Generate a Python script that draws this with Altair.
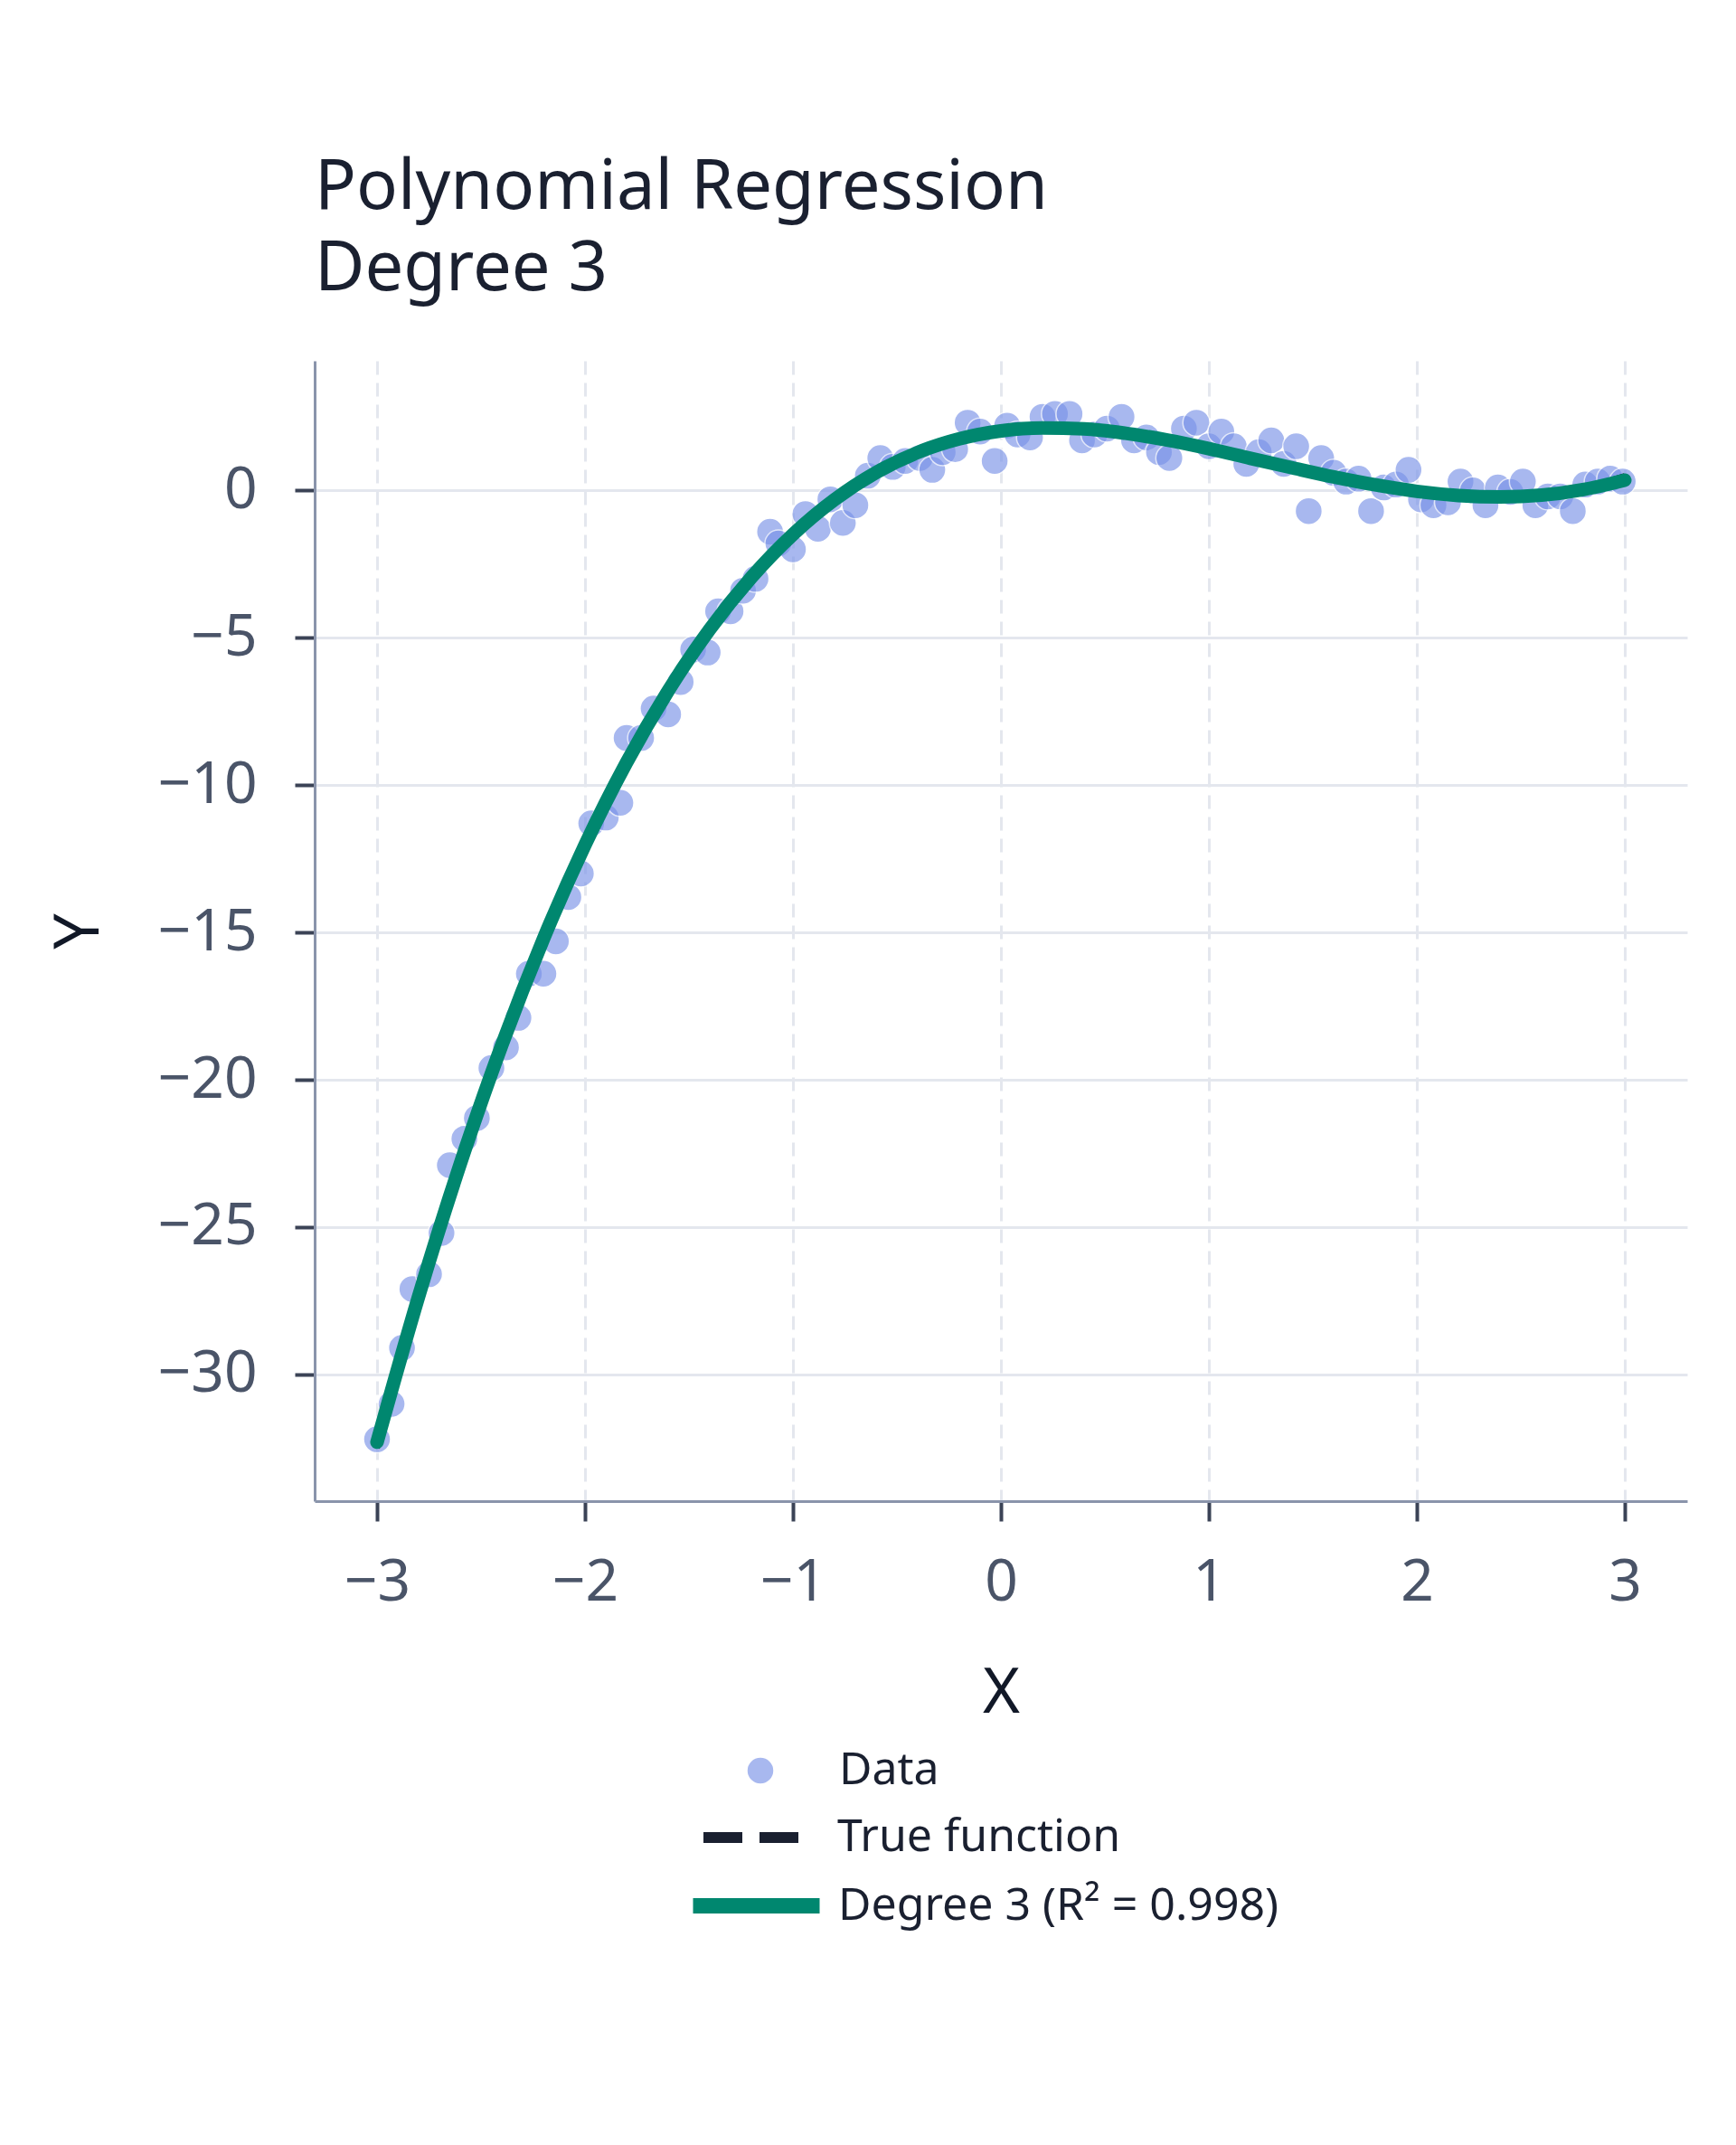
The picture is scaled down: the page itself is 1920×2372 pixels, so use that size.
import altair as alt
import pandas as pd

# noisy samples
pts_x = [-3.00, -2.93, -2.88, -2.83, -2.75, -2.69, -2.65, -2.58, -2.52, -2.45,
         -2.38, -2.32, -2.27, -2.20, -2.14, -2.08, -2.02, -1.97, -1.90, -1.83,
         -1.80, -1.73, -1.67, -1.60, -1.54, -1.48, -1.41, -1.36, -1.30, -1.24,
         -1.18, -1.11, -1.07, -1.00, -0.94, -0.88, -0.82, -0.76, -0.70, -0.64,
         -0.58, -0.52, -0.46, -0.39, -0.33, -0.28, -0.22, -0.16, -0.10, -0.03,
         0.03, 0.08, 0.14, 0.20, 0.26, 0.33, 0.39, 0.45, 0.51, 0.58,
         0.64, 0.70, 0.76, 0.81, 0.88, 0.94, 1.00, 1.06, 1.12, 1.18,
         1.24, 1.30, 1.36, 1.42, 1.48, 1.54, 1.60, 1.66, 1.72, 1.78,
         1.84, 1.90, 1.96, 2.02, 2.08, 2.15, 2.21, 2.27, 2.33, 2.39,
         2.45, 2.51, 2.57, 2.63, 2.69, 2.75, 2.81, 2.87, 2.93, 2.99]
pts_y = [-32.2, -31.0, -29.1, -27.1, -26.6, -25.2, -22.9, -22.0, -21.3, -19.6,
         -18.9, -17.9, -16.4, -16.4, -15.3, -13.8, -13.0, -11.3, -11.1, -10.6,
         -8.4, -8.4, -7.4, -7.6, -6.5, -5.4, -5.5, -4.1, -4.1, -3.4,
         -3.0, -1.4, -1.8, -2.0, -0.8, -1.3, -0.3, -1.1, -0.5, 0.5,
         1.1, 0.8, 1.0, 1.1, 0.7, 1.3, 1.4, 2.3, 2.0, 1.0,
         2.2, 1.9, 1.8, 2.5, 2.6, 2.6, 1.7, 1.9, 2.1, 2.5,
         1.7, 1.8, 1.3, 1.1, 2.1, 2.3, 1.5, 2.0, 1.5, 0.9,
         1.3, 1.7, 0.9, 1.5, -0.7, 1.1, 0.6, 0.3, 0.4, -0.7,
         0.1, 0.2, 0.7, -0.3, -0.5, -0.4, 0.3, 0.0, -0.5, 0.1,
         -0.05, 0.3, -0.5, -0.2, -0.2, -0.7, 0.2, 0.3, 0.4, 0.3]

# curves, sampled every 0.2
curve_x = [-3.0, -2.8, -2.6, -2.4, -2.2, -2.0, -1.8, -1.6, -1.4, -1.2, -1.0,
           -0.8, -0.6, -0.4, -0.2, 0.0, 0.2, 0.4, 0.6, 0.8, 1.0,
           1.2, 1.4, 1.6, 1.8, 2.0, 2.2, 2.4, 2.6, 2.8, 3.0]
true_y = [-32.50, -27.46, -22.91, -18.83, -15.20, -12.00, -9.20, -6.77, -4.69, -2.94, -1.50,
          -0.34, 0.57, 1.25, 1.72, 2.00, 2.12, 2.11, 1.99, 1.78, 1.50,
          1.18, 0.85, 0.53, 0.24, 0.00, -0.16, -0.21, -0.13, 0.10, 0.50]
fit_y = [-32.30, -27.35, -22.86, -18.82, -15.22, -12.03, -9.23, -6.80, -4.71, -2.95, -1.49,
         -0.31, 0.61, 1.29, 1.75, 2.02, 2.12, 2.09, 1.94, 1.71, 1.42,
         1.09, 0.77, 0.46, 0.19, -0.03, -0.17, -0.22, -0.16, 0.03, 0.35]

series_names = ["Data", "True function", "Degree 3 (R² = 0.998)"]

FONT = "Noto Sans"
INK = "#1a2030"

points = pd.DataFrame({"x": pts_x, "y": pts_y, "series": series_names[0]})
truth = pd.DataFrame({"x": curve_x, "y": true_y, "series": series_names[1]})
fit = pd.DataFrame({"x": curve_x, "y": fit_y, "series": series_names[2]})

x_enc = alt.X("x:Q", title="X",
              scale=alt.Scale(domain=[-3.3, 3.3], nice=False, zero=False),
              axis=alt.Axis(values=[-3, -2, -1, 0, 1, 2, 3], format="d",
                            gridDash=[15, 9], labelFlush=False,
                            labelPadding=36, titlePadding=56))
y_enc = alt.Y("y:Q", title="Y",
              scale=alt.Scale(domain=[-34.3, 4.4], nice=False, zero=False),
              axis=alt.Axis(values=[-30, -25, -20, -15, -10, -5, 0], format="d",
                            labelPadding=42, titlePadding=51))

leg = dict(orient="none", title=None, labelFont=FONT, labelFontSize=50,
           labelColor=INK, labelLimit=800, padding=0)

dots = alt.Chart(points).mark_circle(
    size=900, opacity=0.65, stroke="white", strokeWidth=1.5
).encode(
    x=x_enc, y=y_enc,
    fill=alt.Fill("series:N",
                  scale=alt.Scale(domain=[series_names[0]], range=["#7a93e8"]),
                  legend=alt.Legend(legendX=468, legendY=1534, symbolSize=900,
                                    symbolType="circle", labelOffset=62, **leg)),
)

true_line = alt.Chart(truth).mark_line(
    color=INK, strokeWidth=6, interpolate="monotone"
).encode(
    x="x:Q", y="y:Q",
    strokeDash=alt.StrokeDash("series:N",
                              scale=alt.Scale(domain=[series_names[1]], range=[[43, 19]]),
                              legend=alt.Legend(legendX=424, legendY=1574,
                                                symbolType="stroke", symbolSize=11236,
                                                symbolStrokeWidth=12, symbolStrokeColor=INK,
                                                labelOffset=36, **leg)),
)

fit_line = alt.Chart(fit).mark_line(
    strokeWidth=15, strokeCap="round", interpolate="monotone"
).encode(
    x="x:Q", y="y:Q",
    stroke=alt.Stroke("series:N",
                      scale=alt.Scale(domain=[series_names[2]], range=["#00876f"]),
                      legend=alt.Legend(legendX=410, legendY=1630,
                                        symbolType="stroke", symbolSize=19600,
                                        symbolStrokeWidth=17, labelOffset=12, **leg)),
)

chart = alt.layer(dots, true_line, fit_line).properties(
    width=1518, height=1261,
    padding={"left": 44, "top": 162, "right": 40, "bottom": 40},
    title=alt.TitleParams(["Polynomial Regression", "Degree 3"], anchor="start",
                          frame="group", font=FONT, fontSize=76,
                          fontWeight="normal", lineHeight=90, color=INK, offset=62),
).configure(
    background="white", font=FONT
).configure_view(
    stroke=None
).configure_axis(
    domainColor="#8a94ab", domainWidth=3,
    tickColor="#3b4356", tickWidth=4, tickSize=22,
    gridColor="#e4e7ee", gridWidth=3,
    labelFont=FONT, labelFontSize=64, labelColor="#4a5468",
    titleFont=FONT, titleFontSize=70, titleFontWeight="normal", titleColor="#111827",
)

chart.save("out.html", embed_options={"renderer": "svg", "actions": False})
